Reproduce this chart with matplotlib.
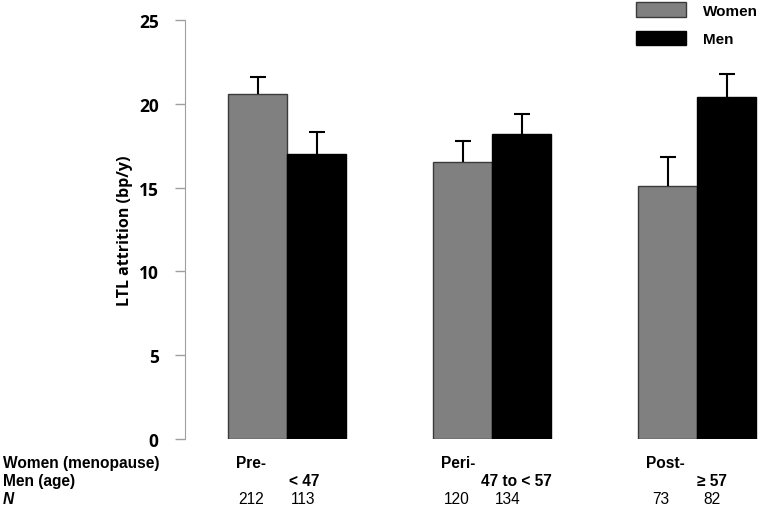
import numpy as np
import matplotlib.pyplot as plt

plt.rcParams['font.family'] = ['Liberation Sans', 'DejaVu Sans']

# data
groups = ['Pre-', 'Peri-', 'Post-']
men_age = ['< 47', '47 to < 57', '\u2265 57']
women_vals = [20.6, 16.5, 15.1]
women_err = [1.0, 1.3, 1.7]
men_vals = [17.0, 18.2, 20.4]
men_err = [1.3, 1.2, 1.4]
n_women = [212, 120, 73]
n_men = [113, 134, 82]

x = np.arange(len(groups))
w = 0.288

fig = plt.figure(figsize=(7.6, 5.1), dpi=100)
ax = fig.add_axes([185 / 760, 70 / 510, 575 / 760, 419 / 510])

ax.bar(x - w / 2, women_vals, w, color='#808080', edgecolor='#3a3a3a', linewidth=1, label='Women')
ax.bar(x + w / 2, men_vals, w, color='black', edgecolor='black', linewidth=1, label='Men')

# upper-only error bars
for xs, vals, errs in [(x - w / 2, women_vals, women_err), (x + w / 2, men_vals, men_err)]:
    eb = ax.errorbar(xs, vals, yerr=[np.zeros(3), errs], fmt='none', ecolor='black',
                     elinewidth=1.5, capsize=6, capthick=1.5)
    eb[1][0].set_visible(False)

ax.set_xlim(-0.5, 2.307)
ax.set_ylim(0, 25)
ax.set_yticks([0, 5, 10, 15, 20, 25])
ax.set_xticks([])
for s in ['top', 'right', 'bottom']:
    ax.spines[s].set_visible(False)
ax.spines['left'].set_color('#a0a0a0')
ax.tick_params(axis='y', colors='#a0a0a0', length=7, width=1, labelcolor='black', labelsize=12.5, pad=12)
for lab in ax.get_yticklabels():
    lab.set_fontweight('bold')
    lab.set_family(['Open Sans', 'DejaVu Sans'])
ax.set_ylabel('LTL attrition (bp/y)', fontsize=11.5, fontweight='bold', family=['Open Sans', 'DejaVu Sans'],
              labelpad=4)

ax.legend(loc='upper right', bbox_to_anchor=(758 / 760, 1 - 3 / 510), bbox_transform=fig.transFigure,
          frameon=False, prop=dict(weight='bold', size=11), handlelength=3.27, handleheight=1.1,
          labelspacing=0.85, handletextpad=1.1, borderaxespad=0, borderpad=0)

# table below the axis
tr = ax.get_xaxis_transform()
fs = 11.2
fig.text(3 / 760, 1 - 464 / 510, 'Women (menopause)', fontsize=fs, fontweight='bold', va='center')
fig.text(3 / 760, 1 - 482 / 510, 'Men (age)', fontsize=fs, fontweight='bold', va='center')
fig.text(3 / 760, 1 - 500 / 510, 'N', fontsize=fs, fontweight='bold', style='italic', va='center')
row = lambda py: (440 - py) / 419
for i in range(len(groups)):
    ax.text(x[i] - 0.25, row(464), groups[i], transform=tr, fontsize=fs, fontweight='bold',
            va='center', ha='left', clip_on=False)
    ax.text(x[i] + [0.083, 0.12, 0.07][i], row(482), men_age[i], transform=tr, fontsize=fs,
            fontweight='bold', va='center', ha='center', clip_on=False)
    ax.text(x[i] - 0.175, row(500), str(n_women[i]), transform=tr, fontsize=fs,
            va='center', ha='center', clip_on=False)
    ax.text(x[i] + 0.075, row(500), str(n_men[i]), transform=tr, fontsize=fs,
            va='center', ha='center', clip_on=False)

fig.savefig('out.png', dpi=100)
